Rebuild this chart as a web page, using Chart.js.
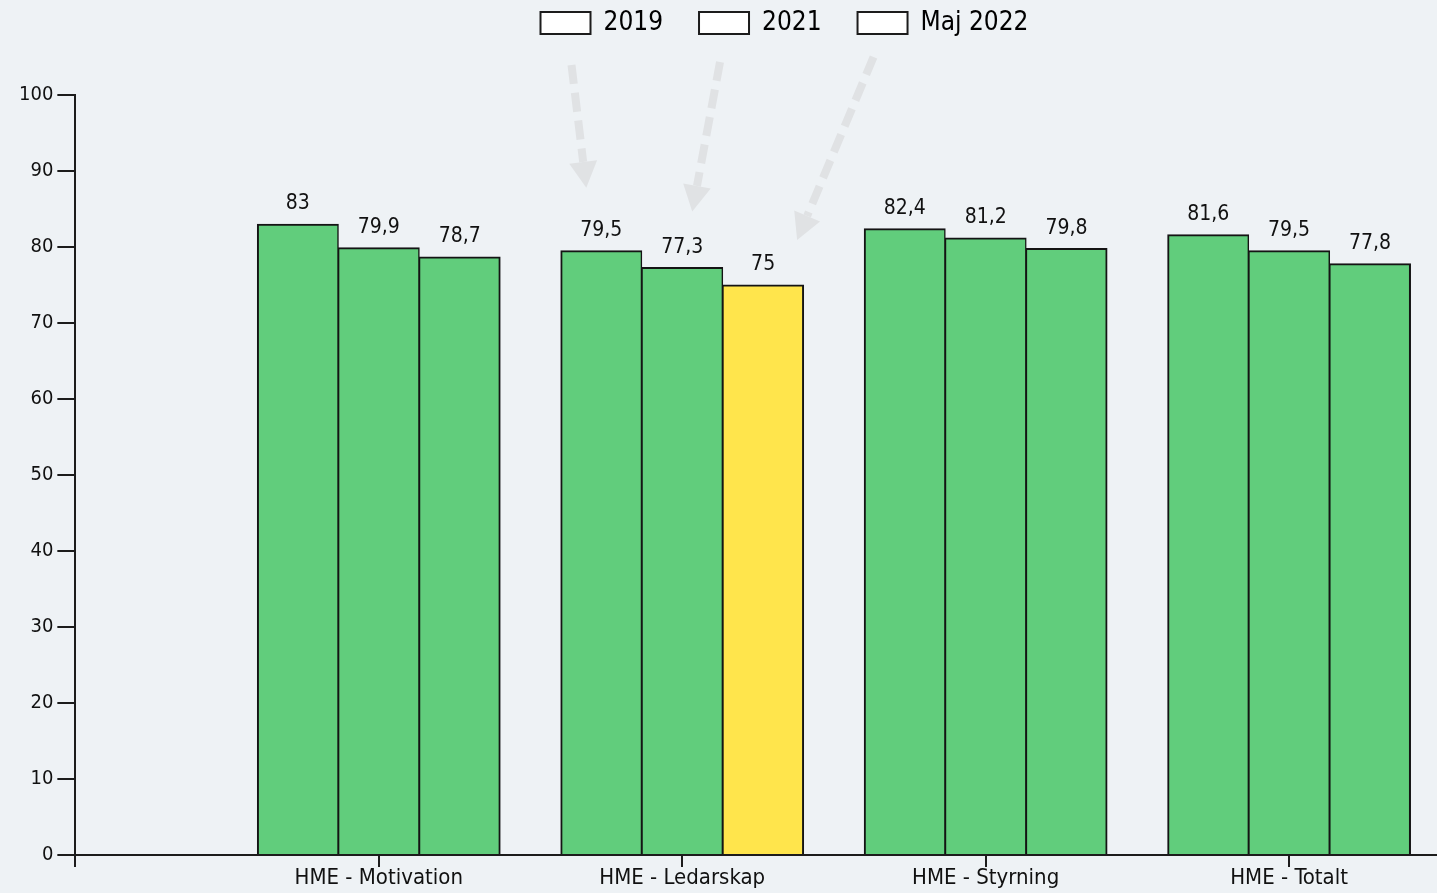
<!DOCTYPE html>
<html>
<head>
<meta charset="utf-8">
<title>HME</title>
<script src="https://cdn.jsdelivr.net/npm/chart.js@4.4.1/dist/chart.umd.min.js"></script>
<style>
  body { margin: 0; background: #eef2f5; overflow: hidden; }
  canvas { display: block; }
</style>
</head>
<body>
<canvas id="hme_chart" width="1557" height="893"></canvas>
<script>
// data
const categories = ['HME - Motivation', 'HME - Ledarskap', 'HME - Styrning', 'HME - Totalt'];
const seriesNames = ['2019', '2021', 'Maj 2022'];
const values2019 = [83, 79.5, 82.4, 81.6];
const values2021 = [79.9, 77.3, 81.2, 79.5];
const valuesMaj2022 = [78.7, 75, 79.8, 77.8];
const yTicks = [0, 10, 20, 30, 40, 50, 60, 70, 80, 90, 100];

const green = '#61cd7c';
const yellow = '#ffe54c';
const colors2019 = [green, green, green, green];
const colors2021 = [green, green, green, green];
const colorsMaj2022 = [green, yellow, green, green];

const fontFamily = "'DejaVu Sans Condensed', 'DejaVu Sans', sans-serif";

// linear x so the first half category stays empty like the original
const toPoints = (vals) => vals.map((v, i) => ({x: i + 1, y: v}));

const datasets = [
    {label: seriesNames[0], data: toPoints(values2019), backgroundColor: colors2019,
     borderWidth: {left: 2, right: 1.5, top: 2, bottom: 0}},
    {label: seriesNames[1], data: toPoints(values2021), backgroundColor: colors2021,
     borderWidth: {left: 1.5, right: 1.5, top: 2, bottom: 0}},
    {label: seriesNames[2], data: toPoints(valuesMaj2022), backgroundColor: colorsMaj2022,
     borderWidth: {left: 1.5, right: 2, top: 2, bottom: 0}}
];
datasets.forEach(d => {
    d.borderColor = '#141414';
    d.categoryPercentage = 0.8;
    d.barPercentage = 1.0;
    d.inflateAmount = 0.5;   // neighbours overlap a bit so no light seam shows between them
});

const valueLabels = {
    id: 'valueLabels',
    afterDatasetsDraw(chart) {
        const ctx = chart.ctx;
        ctx.save();
        ctx.font = '21px ' + fontFamily;
        ctx.fillStyle = '#111';
        ctx.textAlign = 'center';
        ctx.textBaseline = 'alphabetic';
        chart.data.datasets.forEach((ds, i) => {
            chart.getDatasetMeta(i).data.forEach((bar, j) => {
                let txt = String(ds.data[j].y).replace('.', ',');
                ctx.fillText(txt, bar.x, bar.y - 15);
            });
        });
        ctx.restore();
    }
};

// grey dashed arrows from the legend down to the Ledarskap bars
const legendArrows = {
    id: 'legendArrows',
    afterDraw(chart) {
        const boxes = chart.legend.legendHitBoxes;
        if (!boxes) return;
        const ctx = chart.ctx;
        const startOff = [[6, 29], [-4, 26], [-9, 21]];
        const endOff = [[-15, 63], [10, 56], [34, 45]];
        ctx.save();
        ctx.strokeStyle = '#e0e2e4';
        ctx.fillStyle = '#e0e2e4';
        boxes.forEach((b, i) => {
            const bar = chart.getDatasetMeta(i).data[1];
            const sx = b.left + 25 + startOff[i][0];
            const sy = b.top + b.height + startOff[i][1];
            const tx = bar.x + endOff[i][0];
            const ty = bar.y - endOff[i][1];
            const ang = Math.atan2(ty - sy, tx - sx);
            const headLen = 26, headHalf = 14;
            const bx = tx - headLen * Math.cos(ang);
            const by = ty - headLen * Math.sin(ang);
            ctx.lineWidth = 8;
            ctx.setLineDash([19, 9]);
            ctx.beginPath();
            ctx.moveTo(sx, sy);
            ctx.lineTo(bx, by);
            ctx.stroke();
            ctx.setLineDash([]);
            ctx.beginPath();
            ctx.moveTo(tx, ty);
            ctx.lineTo(bx + headHalf * Math.sin(ang), by - headHalf * Math.cos(ang));
            ctx.lineTo(bx - headHalf * Math.sin(ang), by + headHalf * Math.cos(ang));
            ctx.closePath();
            ctx.fill();
        });
        ctx.restore();
    }
};

new Chart(document.getElementById('hme_chart'), {
    type: 'bar',
    data: {datasets: datasets},
    plugins: [valueLabels, legendArrows],
    options: {
        responsive: false,
        animation: false,
        events: [],
        layout: {padding: {top: -26, left: 15, right: 3, bottom: 4}},
        plugins: {
            tooltip: {enabled: false},
            legend: {
                display: true,
                position: 'top',
                labels: {
                    boxWidth: 50,
                    boxHeight: 22,
                    padding: 36,
                    color: '#1a1a1a',
                    font: {family: fontFamily, size: 26},
                    generateLabels: (chart) => chart.data.datasets.map((ds, i) => ({
                        text: ds.label,
                        fillStyle: '#ffffff',
                        strokeStyle: '#1c1c1c',
                        lineWidth: 2,
                        datasetIndex: i,
                        hidden: false
                    }))
                }
            },
            // empty title only used as a spacer under the legend
            title: {
                display: true,
                text: '',
                weight: 500,
                font: {size: 10, lineHeight: 1},
                padding: {top: 0, bottom: 39}
            }
        },
        scales: {
            x: {
                type: 'linear',
                min: 0,
                max: 4.873,
                offset: false,
                border: {color: '#1c1c1c', width: 2},
                grid: {offset: false, drawOnChartArea: false, drawTicks: true, tickLength: 12, color: '#1c1c1c', lineWidth: 2},
                ticks: {
                    stepSize: 1,
                    includeBounds: false,
                    autoSkip: false,
                    maxRotation: 0,
                    padding: 0,
                    color: '#111',
                    font: {family: fontFamily, size: 22, lineHeight: 1},
                    callback: (v) => categories[v - 1] || ''
                }
            },
            y: {
                min: yTicks[0],
                max: yTicks[yTicks.length - 1],
                border: {color: '#1c1c1c', width: 2},
                grid: {drawOnChartArea: false, drawTicks: true, tickLength: 18, color: '#1c1c1c', lineWidth: 2},
                afterBuildTicks: (axis) => { axis.ticks = yTicks.map(v => ({value: v})); },
                ticks: {
                    padding: 4,
                    color: '#111',
                    font: {family: fontFamily, size: 20}
                }
            }
        }
    }
});
</script>
</body>
</html>
